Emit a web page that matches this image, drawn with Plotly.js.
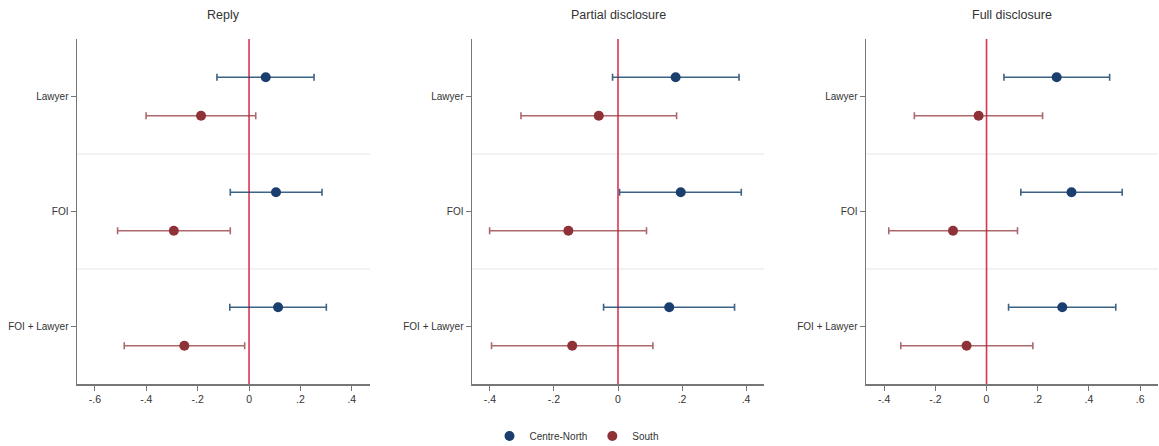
<!DOCTYPE html>
<html>
<head>
<meta charset="utf-8">
<script src="https://cdn.plot.ly/plotly-3.0.1.min.js"></script>
<style>body{margin:0;background:#fff}#chart{width:1159px;height:446px}</style>
</head>
<body>
<div id="chart"></div>
<script>
// Data
const categories = ["Lawyer", "FOI", "FOI + Lawyer"];
const panels = ["Reply", "Partial disclosure", "Full disclosure"];
const seriesNames = ["Centre-North", "South"];

// Reply
const replyCN = [0.065, 0.105, 0.113];
const replyCNlo = [-0.125, -0.073, -0.075];
const replyCNhi = [0.253, 0.284, 0.301];
const replyS = [-0.187, -0.293, -0.252];
const replySlo = [-0.401, -0.512, -0.486];
const replyShi = [0.026, -0.073, -0.017];

// Partial disclosure
const partialCN = [0.180, 0.196, 0.160];
const partialCNlo = [-0.017, 0.005, -0.045];
const partialCNhi = [0.378, 0.385, 0.364];
const partialS = [-0.060, -0.155, -0.143];
const partialSlo = [-0.303, -0.401, -0.395];
const partialShi = [0.183, 0.089, 0.109];

// Full disclosure
const fullCN = [0.274, 0.332, 0.296];
const fullCNlo = [0.068, 0.134, 0.086];
const fullCNhi = [0.481, 0.530, 0.505];
const fullS = [-0.031, -0.131, -0.078];
const fullSlo = [-0.282, -0.382, -0.335];
const fullShi = [0.219, 0.121, 0.181];

const xTickVals = [[-0.6,-0.4,-0.2,0,0.2,0.4],[-0.4,-0.2,0,0.2,0.4],[-0.4,-0.2,0,0.2,0.4,0.6]];
const xTickText = [["-.6","-.4","-.2","0",".2",".4"],["-.4","-.2","0",".2",".4"],["-.4","-.2","0",".2",".4",".6"]];
const xRanges = [[-0.670,0.471],[-0.456,0.456],[-0.471,0.670]];

const panelData = [
  [[replyCN, replyCNlo, replyCNhi], [replyS, replySlo, replyShi]],
  [[partialCN, partialCNlo, partialCNhi], [partialS, partialSlo, partialShi]],
  [[fullCN, fullCNlo, fullCNhi], [fullS, fullSlo, fullShi]]
];

const markerColors = ["#1a3f6e", "#8f3238"];
const barColors = ["rgba(26,71,111,0.85)", "rgba(144,53,59,0.75)"];
const offsets = [-0.167, 0.167];
const domains = [[77/1159, 370/1159],[472/1159, 764/1159],[866/1159, 1158/1159]];

const traces = [];
const layout = {
  width: 1159, height: 446,
  margin: {l: 0, r: 0, t: 39, b: 62, autoexpand: false},
  paper_bgcolor: "#fff", plot_bgcolor: "#fff",
  font: {family: "Liberation Sans, Arial, sans-serif", size: 10, color: "#333"},
  showlegend: true,
  legend: {orientation: "h", x: 0.5 - 3/1159, xanchor: "center", yref: "container", y: 10/446, yanchor: "middle",
           font: {size: 10, color: "#333"}, tracegroupgap: 0},
  shapes: [], annotations: []
};

panelData.forEach((pd, p) => {
  const xa = p === 0 ? "x" : "x" + (p + 1);
  const ya = p === 0 ? "y" : "y" + (p + 1);
  pd.forEach((s, k) => {
    const [pt, lo, hi] = s;
    traces.push({
      type: "scatter", mode: "markers",
      x: pt, y: categories.map((c, i) => i + offsets[k]),
      xaxis: xa, yaxis: ya,
      name: seriesNames[k], legendgroup: seriesNames[k], showlegend: p === 0,
      marker: {color: markerColors[k], size: 10},
      error_x: {type: "data", symmetric: false,
        array: hi.map((h, i) => h - pt[i]), arrayminus: lo.map((l, i) => pt[i] - l),
        color: barColors[k], thickness: 1.6, width: 3.5},
      hoverinfo: "x+y"
    });
  });
  const xkey = p === 0 ? "xaxis" : "xaxis" + (p + 1);
  const ykey = p === 0 ? "yaxis" : "yaxis" + (p + 1);
  layout[xkey] = {domain: domains[p], anchor: ya, range: xRanges[p], automargin: false,
    tickvals: xTickVals[p], ticktext: xTickText[p], ticks: "outside", ticklen: 5,
    tickcolor: "#777", showline: true, linecolor: "#777", linewidth: 1.5,
    showgrid: false, zeroline: false, tickfont: {size: 10.5, color: "#333"}};
  layout[ykey] = {domain: [0, 1], anchor: xa, range: [2.5, -0.5], automargin: false,
    tickvals: [0, 1, 2], ticktext: categories, ticks: "outside", ticklen: 5,
    tickcolor: "#777", showline: true, linecolor: "#777", linewidth: 1.5,
    showgrid: false, zeroline: false, tickfont: {size: 10, color: "#333"}};
  [0.5, 1.5].forEach(v => layout.shapes.push({type: "line", xref: xa + " domain", x0: 0, x1: 1,
    yref: ya, y0: v, y1: v, line: {color: "#e6e6e6", width: 1.2}, layer: "below"}));
  layout.shapes.push({type: "line", xref: xa, x0: 0, x1: 0, yref: ya + " domain", y0: 0, y1: 1,
    line: {color: "#dc3352", width: 1.6}, layer: "below"});
  layout.annotations.push({text: panels[p], xref: xa + " domain", x: 0.5, xanchor: "center",
    yref: "paper", y: 1, yshift: 24, yanchor: "middle", showarrow: false,
    font: {size: 12.5, color: "#333"}});
});

Plotly.newPlot("chart", traces, layout, {displayModeBar: false, staticPlot: true});
</script>
</body>
</html>
